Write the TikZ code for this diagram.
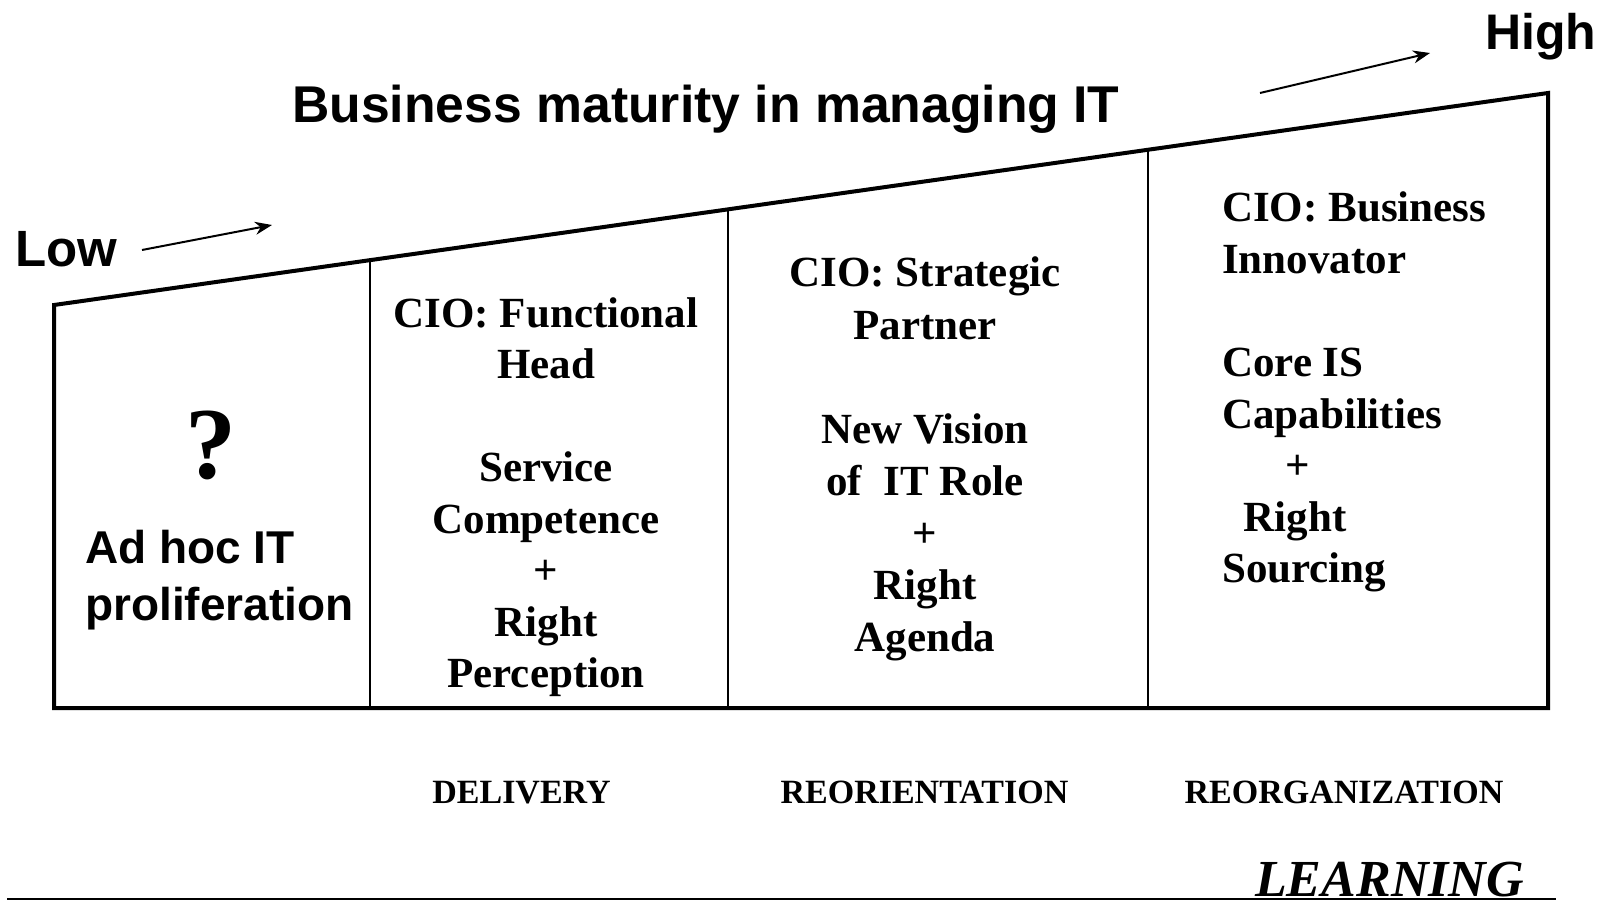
\documentclass[tikz,border=0pt]{standalone}
\usepackage{fontspec}
\setmainfont{Liberation Serif}
\newfontfamily\arialf{Liberation Sans}
\usetikzlibrary{arrows.meta,calc}
\begin{document}
\begin{tikzpicture}[x=1pt,y=-1pt,
  outline/.style={line width=4pt, line join=miter},
  divider/.style={line width=2.5pt},
  sanslbl/.style={inner sep=0pt, font=\arialf\bfseries\fontsize{50}{60}\selectfont},
  adhoc/.style={inner sep=0pt, font=\arialf\bfseries\fontsize{46}{56}\selectfont},
  celltxt/.style={inner sep=0pt, font=\bfseries\fontsize{43}{51.5}\selectfont},
  phase/.style={inner sep=0pt, font=\bfseries\fontsize{34}{40}\selectfont},
  trend/.style={line width=2pt, -{Stealth[length=17pt,width=13pt]}}]
\useasboundingbox (0,0) rectangle (1608,901);

% outline
\coordinate (A) at (54,305);
\coordinate (B) at (1548,93);
\coordinate (C) at (1548,708);
\coordinate (D) at (54,708);
\draw[outline] (A) -- (B) -- (C) -- (D) -- cycle;

% dividers
\coordinate (d1) at ($(A)!0.2115!(B)$);
\coordinate (d2) at ($(A)!0.4511!(B)$);
\coordinate (d3) at ($(A)!0.7323!(B)$);
\draw[divider] (d1) -- (d1 |- C);
\draw[divider] (d2) -- (d2 |- C);
\draw[divider] (d3) -- (d3 |- C);

% title and scale labels
\node[sanslbl, anchor=base west, font=\arialf\bfseries\fontsize{51.7}{60}\selectfont] (title) at (292,123) {Business maturity in managing IT};
\node[sanslbl, anchor=base west, font=\arialf\bfseries\fontsize{51}{60}\selectfont] (low) at (15,267) {Low};
\node[sanslbl, anchor=base west] (high) at (1485,50) {High};
\coordinate (lowS) at (142,250);
\coordinate (lowE) at (272,225);
\coordinate (highS) at (1260,93);
\coordinate (highE) at (1430,53);
\draw[trend] (lowS) -- (lowE);
\draw[trend] (highS) -- (highE);

% column 1
\node[inner sep=0pt, anchor=base, font=\bfseries\fontsize{102}{110}\selectfont] (q) at (211,478) {?};
\node[adhoc, anchor=base west] (adh1) at (85,563) {Ad hoc IT};
\node[adhoc, anchor=base west] (adh2) at (85,620) {proliferation};

% column 2
\node[celltxt, anchor=base] (c2a) at (546,327) {CIO: Functional};
\node[celltxt, anchor=base] (c2b) at (546,378.5) {Head};
\node[celltxt, anchor=base] (c2c) at (546,481.5) {Service};
\node[celltxt, anchor=base] (c2d) at (546,533) {Competence};
\node[celltxt, anchor=base] (c2e) at (546,584.5) {+};
\node[celltxt, anchor=base] (c2f) at (546,636) {Right};
\node[celltxt, anchor=base] (c2g) at (546,687.5) {Perception};

% column 3
\node[celltxt, anchor=base] (c3a) at (925,287) {CIO: Strategic};
\node[celltxt, anchor=base] (c3b) at (925,339) {Partner};
\node[celltxt, anchor=base] (c3c) at (925,443) {New Vision};
\node[celltxt, anchor=base] (c3d) at (925,495) {of\ \ IT Role};
\node[celltxt, anchor=base] (c3e) at (925,547) {+};
\node[celltxt, anchor=base] (c3f) at (925,599) {Right};
\node[celltxt, anchor=base] (c3g) at (925,651) {Agenda};

% column 4
\node[celltxt, anchor=base west] (c4a) at (1222,222) {CIO: Business};
\node[celltxt, anchor=base west] (c4b) at (1222,273.5) {Innovator};
\node[celltxt, anchor=base west] (c4c) at (1222,376.5) {Core IS};
\node[celltxt, anchor=base west] (c4d) at (1222,428) {Capabilities};
\node[celltxt, anchor=base] (c4e) at (1298,479.5) {+};
\node[celltxt, anchor=base] (c4f) at (1295,531) {Right};
\node[celltxt, anchor=base west] (c4g) at (1222,582.5) {Sourcing};

% phases
\node[phase, anchor=base] (p1) at (521.5,803) {DELIVERY};
\node[phase, anchor=base] (p2) at (924.5,803) {REORIENTATION};
\node[phase, anchor=base] (p3) at (1344,803) {REORGANIZATION};

% learning
\coordinate (bl) at (7,899);
\coordinate (br) at (1556,899);
\draw[line width=2.5pt] (bl) -- (br);
\node[inner sep=0pt, anchor=base west, font=\bfseries\itshape\fontsize{52}{60}\selectfont] (learn) at (1255,896) {LEARNING};
\end{tikzpicture}
\end{document}
